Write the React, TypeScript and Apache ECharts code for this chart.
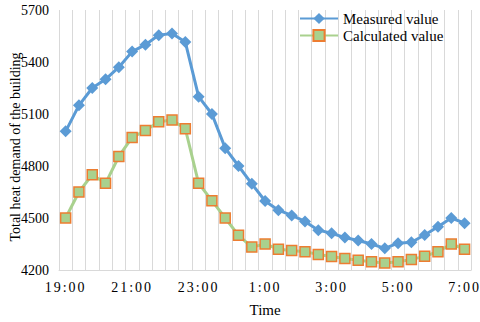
import React, { useEffect, useRef } from "react";
import * as echarts from "echarts";

const categories = [
  "19:00", "19:24", "19:48", "20:12", "20:36", "21:00", "21:24", "21:48", "22:12", "22:36",
  "23:00", "23:24", "23:48", "0:12", "0:36", "1:00", "1:24", "1:48", "2:12", "2:36",
  "3:00", "3:24", "3:48", "4:12", "4:36", "5:00", "5:24", "5:48", "6:12", "6:36", "7:00",
];

const measured = [
  5000, 5150, 5250, 5300, 5370, 5460, 5500, 5555, 5565, 5515,
  5200, 5100, 4903, 4800, 4697, 4598, 4545, 4515, 4480, 4430,
  4412, 4387, 4370, 4350, 4325, 4355, 4360, 4402, 4450, 4500, 4470,
];

const calculated = [
  4500, 4650, 4750, 4700, 4855, 4965, 5005, 5055, 5065, 5015,
  4700, 4600, 4500, 4400, 4332, 4350, 4320, 4313, 4305, 4290,
  4278, 4266, 4256, 4248, 4240, 4248, 4260, 4280, 4305, 4350, 4320,
];

const yTicks = { min: 4200, max: 5700, interval: 300 };
const yTitle = "Total heat demand of the building";

export default function App() {
  const ref = useRef<HTMLDivElement>(null);
  useEffect(() => {
    if (!ref.current) return;
    const chart = echarts.init(ref.current, null, { renderer: "svg" });
    const font = "'Liberation Serif', 'Times New Roman', serif";
    chart.setOption({
      animation: false,
      grid: { left: 59, right: 8, top: 10, bottom: 41 },
      graphic: [
        {
          type: "text",
          x: 15,
          y: 147,
          rotation: Math.PI / 2,
          style: {
            text: yTitle,
            fontFamily: font,
            fontSize: 14,
            fill: "#000",
            align: "center",
            verticalAlign: "middle",
          },
        },
      ],
      legend: {
        orient: "vertical",
        left: 294,
        top: 6,
        itemWidth: 38,
        itemHeight: 14,
        itemGap: 2,
        textStyle: { fontFamily: font, fontSize: 15, color: "#000" },
        data: ["Measured value", "Calculated value"],
      },
      xAxis: {
        type: "category",
        data: categories,
        boundaryGap: true,
        name: "Time",
        nameLocation: "middle",
        nameGap: 32,
        nameTextStyle: { fontFamily: font, fontSize: 15, color: "#000" },
        axisLine: { show: true, lineStyle: { color: "#D9D9D9", width: 1 } },
        axisTick: { show: false },
        axisLabel: {
          interval: 4,
          margin: 10,
          fontFamily: font,
          fontSize: 14,
          color: "#000",
        },
        splitLine: { show: true, interval: 0, lineStyle: { color: "#D9D9D9", width: 1 } },
      },
      yAxis: {
        type: "value",
        min: yTicks.min,
        max: yTicks.max,
        interval: yTicks.interval,
        axisLine: { show: false },
        axisTick: { show: false },
        axisLabel: {
          margin: 10,
          fontFamily: font,
          fontSize: 14,
          color: "#000",
          formatter: (v: number) => String(v),
        },
        splitLine: { show: false },
      },
      series: [
        {
          name: "Measured value",
          type: "line",
          data: measured,
          symbol: "diamond",
          symbolSize: 12,
          showAllSymbol: true,
          lineStyle: { color: "#5B9BD5", width: 3 },
          itemStyle: { color: "#5B9BD5" },
          z: 3,
        },
        {
          name: "Calculated value",
          type: "line",
          data: calculated,
          symbol: "rect",
          symbolSize: 10,
          showAllSymbol: true,
          lineStyle: { color: "#A9D18E", width: 3 },
          itemStyle: { color: "#A9D18E", borderColor: "#ED7D31", borderWidth: 1.5 },
          z: 2,
        },
      ],
    });
    const texts = ref.current.querySelectorAll("text");
    texts.forEach((t) => {
      if (/^\d{1,2}:\d\d$/.test(t.textContent || "")) {
        t.setAttribute("letter-spacing", "2");
      }
    });
    return () => chart.dispose();
  }, []);
  return <div ref={ref} style={{ width: 480, height: 322, position: "absolute", left: 0, top: 0 }} />;
}
